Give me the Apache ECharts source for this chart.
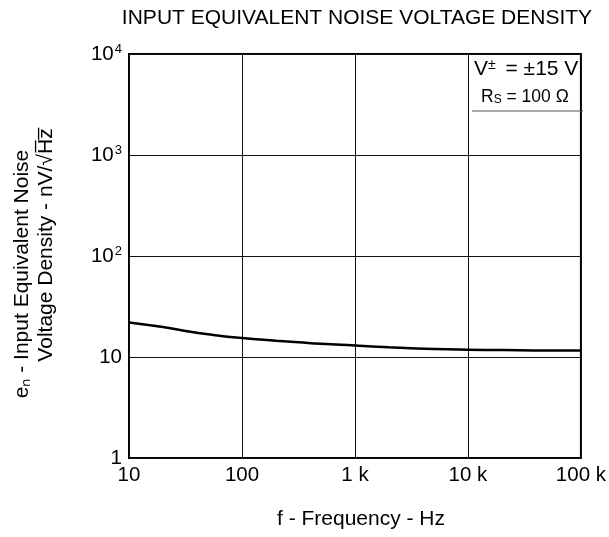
<html>
<head>
<meta charset="utf-8">
<script src="https://cdn.jsdelivr.net/npm/echarts@6/dist/echarts.min.js"></script>
<style>
html, body { margin: 0; padding: 0; background: #fff; }
#main { width: 609px; height: 537px; }
</style>
</head>
<body>
<div id="main"></div>
<script type="text/javascript">
// frequency (Hz) and noise density (nV/rtHz)
var freq  = [10, 20, 31.6, 50, 100, 200, 316, 500, 1000, 2000, 5000, 10000, 20000, 50000, 100000];
var noise = [22, 19.8, 18.1, 16.8, 15.4, 14.5, 14.0, 13.5, 13.0, 12.5, 12.0, 11.8, 11.7, 11.6, 11.6];
var xTicks = {10: '10', 100: '100', 1000: '1 k', 10000: '10 k', 100000: '100 k'};
var yTicks = {1: '{b|1}', 10: '{b|10}', 100: '{b|10}{s|2}', 1000: '{b|10}{s|3}', 10000: '{b|10}{s|4}'};

var pts = [];
for (var i = 0; i < freq.length; i++) pts.push([freq[i], noise[i]]);

var font = 'Liberation Sans, Arial, sans-serif';
var chart = echarts.init(document.getElementById('main'));
chart.setOption({
	animation: false,
	backgroundColor: '#fff',
	textStyle: { fontFamily: font, color: '#000' },
	grid: {
		left: 129, right: 26, top: 54, bottom: 79,
		show: true, borderColor: '#000', borderWidth: 2, backgroundColor: 'transparent'
	},
	xAxis: {
		type: 'log', logBase: 10, min: 10, max: 100000,
		axisLine: { show: false }, axisTick: { show: false },
		splitLine: { show: true, lineStyle: { color: '#111', width: 1 } },
		minorSplitLine: { show: false },
		axisLabel: {
			margin: 7, fontSize: 20.5, color: '#000', fontFamily: font,
			formatter: function (v) { return xTicks[Math.round(v)] || ''; }
		}
	},
	yAxis: {
		type: 'log', logBase: 10, min: 1, max: 10000,
		axisLine: { show: false }, axisTick: { show: false },
		splitLine: { show: true, lineStyle: { color: '#111', width: 1 } },
		axisLabel: {
			margin: 7,
			formatter: function (v) { return yTicks[Math.round(v)] || ''; },
			rich: {
				b: { fontSize: 20.5, color: '#000', fontFamily: font },
				s: { fontSize: 13, color: '#000', fontFamily: font, verticalAlign: 'top', padding: [0, 0, 10, 1] }
			}
		}
	},
	series: [{
		type: 'line',
		data: pts,
		smooth: true,
		showSymbol: false,
		lineStyle: { color: '#000', width: 2.5 }
	}],
	graphic: [
		{
			type: 'text', x: 357, y: 18,
			style: {
				text: 'INPUT EQUIVALENT NOISE VOLTAGE DENSITY',
				fontSize: 21, fontFamily: font, fill: '#000',
				align: 'center', verticalAlign: 'middle'
			}
		},
		{
			type: 'line', z: 10,
			shape: { x1: 472, y1: 111, x2: 583, y2: 111 },
			style: { stroke: '#555', lineWidth: 1 }
		},
		{
			type: 'text', left: 474, top: 58, z: 10,
			style: {
				text: '{a|V}{s|±}{a| = ±15 V}',
				rich: {
					a: { fontSize: 21, fontFamily: font, fill: '#000' },
					s: { fontSize: 14, fontFamily: font, fill: '#000', verticalAlign: 'top', padding: [0, 4, 8, 0] }
				}
			}
		},
		{
			type: 'text', left: 481, top: 88, z: 10,
			style: {
				text: '{a|R}{s|S}{a| = 100 Ω}',
				rich: {
					a: { fontSize: 17.5, fontFamily: font, fill: '#000' },
					s: { fontSize: 12, fontFamily: font, fill: '#000', verticalAlign: 'bottom' }
				}
			}
		},
		{
			type: 'text', x: 22, y: 274, rotation: Math.PI / 2,
			style: {
				text: 'e\u2099 - Input Equivalent Noise',
				fontSize: 21, fontFamily: font, fill: '#000',
				align: 'center', verticalAlign: 'middle'
			}
		},
		{
			type: 'text', x: 46, y: 245, rotation: Math.PI / 2,
			style: {
				text: 'Voltage Density - nV/\u221aH\u0305z\u0305',
				fontSize: 21, fontFamily: font, fill: '#000',
				align: 'center', verticalAlign: 'middle'
			}
		},
		{
			type: 'text', x: 361, y: 519,
			style: {
				text: 'f - Frequency - Hz',
				fontSize: 21, fontFamily: font, fill: '#000',
				align: 'center', verticalAlign: 'middle'
			}
		}
	]
});
</script>
</body>
</html>
